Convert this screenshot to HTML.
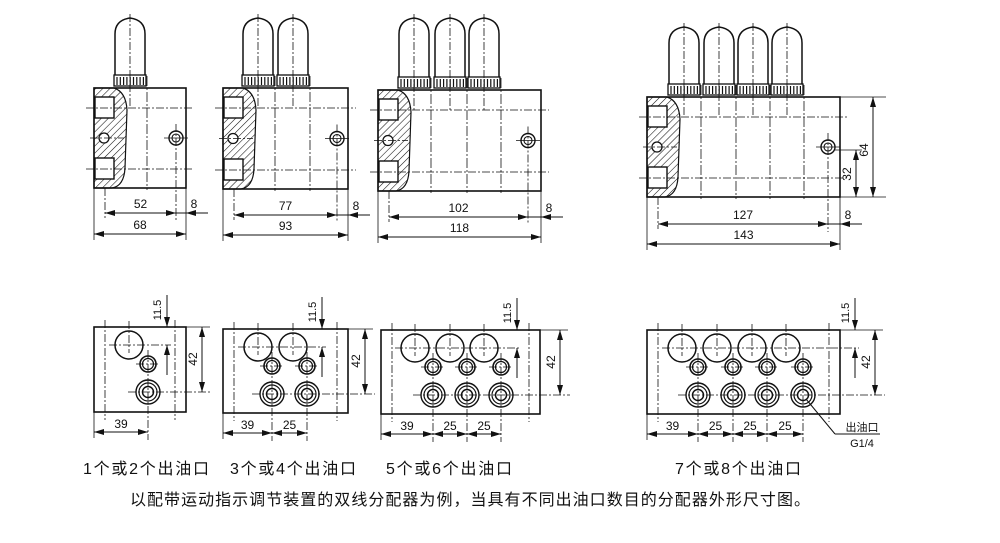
<!DOCTYPE html>
<html><head><meta charset="utf-8">
<style>
html,body{margin:0;padding:0;background:#fff;}
svg{display:block;}
text{font-family:"Liberation Sans","Noto Sans CJK SC",sans-serif;fill:#111;}
</style></head>
<body>
<svg id="s" width="1000" height="543" viewBox="0 0 1000 543" xmlns="http://www.w3.org/2000/svg">
<defs>
<pattern id="h" patternUnits="userSpaceOnUse" width="5" height="5" patternTransform="rotate(45)">
<line x1="0" y1="0" x2="0" y2="5" stroke="#111" stroke-width="1.1"/>
</pattern>
<marker id="a" viewBox="0 0 10 6" refX="10" refY="3" markerWidth="10" markerHeight="6" orient="auto-start-reverse" markerUnits="userSpaceOnUse">
<path d="M0,0 L10,3 L0,6 z" fill="#111"/>
</marker>
</defs>
<g id="g"></g>
</svg>
<script>
(function(){
var o='';
function L(x1,y1,x2,y2,w,d){o+='<line x1="'+x1+'" y1="'+y1+'" x2="'+x2+'" y2="'+y2+'" stroke="#111" stroke-width="'+(w||1)+'"'+(d?' stroke-dasharray="'+d+'"':'')+'/>';}
function C(x,y,r,w){o+='<circle cx="'+x+'" cy="'+y+'" r="'+r+'" fill="none" stroke="#111" stroke-width="'+(w||1.3)+'"/>';}
function R(x,y,w,h,sw,f){o+='<rect x="'+x+'" y="'+y+'" width="'+w+'" height="'+h+'" fill="'+(f||'none')+'" stroke="#111" stroke-width="'+(sw||1.5)+'"/>';}
function T(x,y,t,s,rot){o+='<text x="'+x+'" y="'+y+'" font-size="'+(s||12)+'" text-anchor="middle"'+(rot?' transform="rotate(-90 '+x+' '+y+')"':'')+'>'+t+'</text>';}
function A(x1,y1,x2,y2){o+='<line x1="'+x1+'" y1="'+y1+'" x2="'+x2+'" y2="'+y2+'" stroke="#111" stroke-width="1" marker-start="url(#a)" marker-end="url(#a)"/>';}
function A1(x1,y1,x2,y2){o+='<line x1="'+x1+'" y1="'+y1+'" x2="'+x2+'" y2="'+y2+'" stroke="#111" stroke-width="1" marker-end="url(#a)"/>';}
var CD='8 2 2 2';
function cart(cx,tp,kb){var x0=cx-15,x1=cx+15,kt=kb-11;
 o+='<path d="M'+x0+','+kt+' L'+x0+','+(tp+16)+' Q'+x0+','+(tp+2)+' '+cx+','+tp+' Q'+x1+','+(tp+2)+' '+x1+','+(tp+16)+' L'+x1+','+kt+'" fill="none" stroke="#111" stroke-width="1.5"/>';
 R(x0-1,kt,32,11,1.3,'#fff');
 for(var i=0;i<9;i++)L(x0+2+i*3.3,kt+2,x0+2+i*3.3,kb-1,1.2);
 L(cx,tp-4,cx,kb+22,0.8,CD);
}
function topView(x0,x1,y0,y1,cs,tp,dims){
 var kb=y0-2;
 cs.forEach(function(c){cart(c,tp,kb);});
 R(x0,y0,x1-x0,y1-y0,1.6);
 var p='M'+x0+','+y0+' L'+(x0+20)+','+y0+' Q'+(x0+32)+','+(y0+4)+' '+(x0+33)+','+(y0+22)+' L'+(x0+31)+','+(y1-20)+' Q'+(x0+30)+','+(y1-2)+' '+(x0+18)+','+y1+' L'+x0+','+y1+' z';
 o+='<path d="'+p+'" fill="url(#h)" stroke="#111" stroke-width="1.2"/>';
 var h=y1-y0;
 R(x0+1,y0+9,19,21,1.4,'#fff');R(x0+1,y1-30,19,21,1.4,'#fff');
 o+='<circle cx="'+(x0+10)+'" cy="'+(y0+h/2)+'" r="5" fill="#fff" stroke="#111" stroke-width="1.3"/>';
 var yc1=y0+20,yc2=y0+h/2,yc3=y1-19;
 L(x0-8,yc1,x1+8,yc1,0.8,CD);L(x0-8,yc3,x1+8,yc3,0.8,CD);L(x0-4,yc2,x0+30,yc2,0.8,CD);
 for(var i=0;i<cs.length;i++){var vx=cs[i]+17;L(vx,y0-12,vx,y1+2,0.8,'10 2 2 2');}
 var cx=dims.cx;
 C(cx,yc2,7,1.4);C(cx,yc2,4,1.1);L(cx-12,yc2,cx+12,yc2,0.8);L(cx,yc2-14,cx,y1+dims.e1,0.8,CD);
 L(x0+11,y1,x0+11,dims.d1+5,0.8,CD);
 L(x0,y1,x0,dims.d2+6,0.8);L(x1,y1,x1,dims.d2+6,0.8);
 A(x0+11,dims.d1,cx,dims.d1);T((x0+11+cx)/2,dims.d1-5,dims.t1);
 A(x0,dims.d2,x1,dims.d2);T((x0+x1)/2,dims.d2-5,dims.t2);
 A1(x1+22,dims.d1,x1,dims.d1);L(cx,dims.d1,x1,dims.d1,1);T(x1+8,dims.d1-5,'8');
}
topView(94,186,88,188,[130],18,{cx:176,e1:32,d1:213,d2:234,t1:'52',t2:'68'});
topView(223,348,88,189,[258,293],18,{cx:337,e1:32,d1:215,d2:235,t1:'77',t2:'93'});
topView(378,541,90,191,[414,450,484],18,{cx:528,e1:32,d1:217,d2:237,t1:'102',t2:'118'});
topView(647,840,97,197,[684,719,753,787],27,{cx:828,e1:35,d1:224,d2:244,t1:'127',t2:'143'});
L(840,97,886,97,0.8);L(840,197,886,197,0.8);L(835,150,862,150,0.8);
A(873,97,873,197);T(868,150,'64',12,1);
A(856,150,856,197);T(851,174,'32',12,1);

function bot(x0,x1,y0,y1,bigs,smalls,xd,xd2){
 R(x0,y0,x1-x0,y1-y0,1.6);
 var yb=y0+18,ys=y0+37,yl=y0+65;
 L(x0+11,y0-7,x0+11,y1+8,0.8,CD);
 L(x1-11,y0-7,x1-11,y1+8,0.8,CD);
 bigs.forEach(function(b){C(b,yb,14,1.5);L(b,y0-6,b,yb+8,0.8,CD);});
 L(bigs[0]-20,yb,xd+4,yb,0.8,CD);
 smalls.forEach(function(s){C(s,ys,8,1.6);C(s,ys,5.5,1.2);L(s-12,ys,s+12,ys,0.8,CD);
   C(s,yl,12,1.4);C(s,yl,9,1.2);C(s,yl,5.5,1.5);L(s,ys-14,s,y1+28,0.8,CD);});
 L(smalls[0]-20,yl,xd2+10,yl,0.8,CD);
 A1(xd,y0-32,xd,y0);A1(xd,yb+30,xd,yb);L(xd,yb,xd,yb+30,1);
 T(xd-6,y0-17,'11.5',11,1);
 L(x1,y0,xd2+8,y0,0.8);A(xd2,y0,xd2,yl);T(xd2-5,y0+32,'42',12,1);
 var yd=y1+20;L(x0,y1,x0,yd+6,0.8);
 A(x0,yd,smalls[0],yd);T((x0+smalls[0])/2,yd-4,'39');
 for(var i=1;i<smalls.length;i++){A(smalls[i-1],yd,smalls[i],yd);T((smalls[i-1]+smalls[i])/2,yd-4,'25');}
}
bot(94,186,327,412,[129],[148],167,202);
bot(223,348,329,413,[258,293],[272,307],322,365);
bot(381,540,330,414,[415,450,484],[433,467,501],517,560);
bot(647,840,330,414,[682,717,752,786],[698,733,767,803],855,875);
L(806,399,835,434,1);L(835,434,880,434,1);
T(862,431,'出油口',11);T(862,447,'G1/4',11);
var labs=[[83,'1个或2个出油口'],[230,'3个或4个出油口'],[386,'5个或6个出油口'],[675,'7个或8个出油口']];
labs.forEach(function(l){o+='<text x="'+l[0]+'" y="474" font-size="16" textLength="126" lengthAdjust="spacing">'+l[1]+'</text>';});
o+='<text x="130" y="505" font-size="16" textLength="680" lengthAdjust="spacing">以配带运动指示调节装置的双线分配器为例，当具有不同出油口数目的分配器外形尺寸图。</text>';
document.getElementById('g').innerHTML=o;
})();
</script>
</body></html>
